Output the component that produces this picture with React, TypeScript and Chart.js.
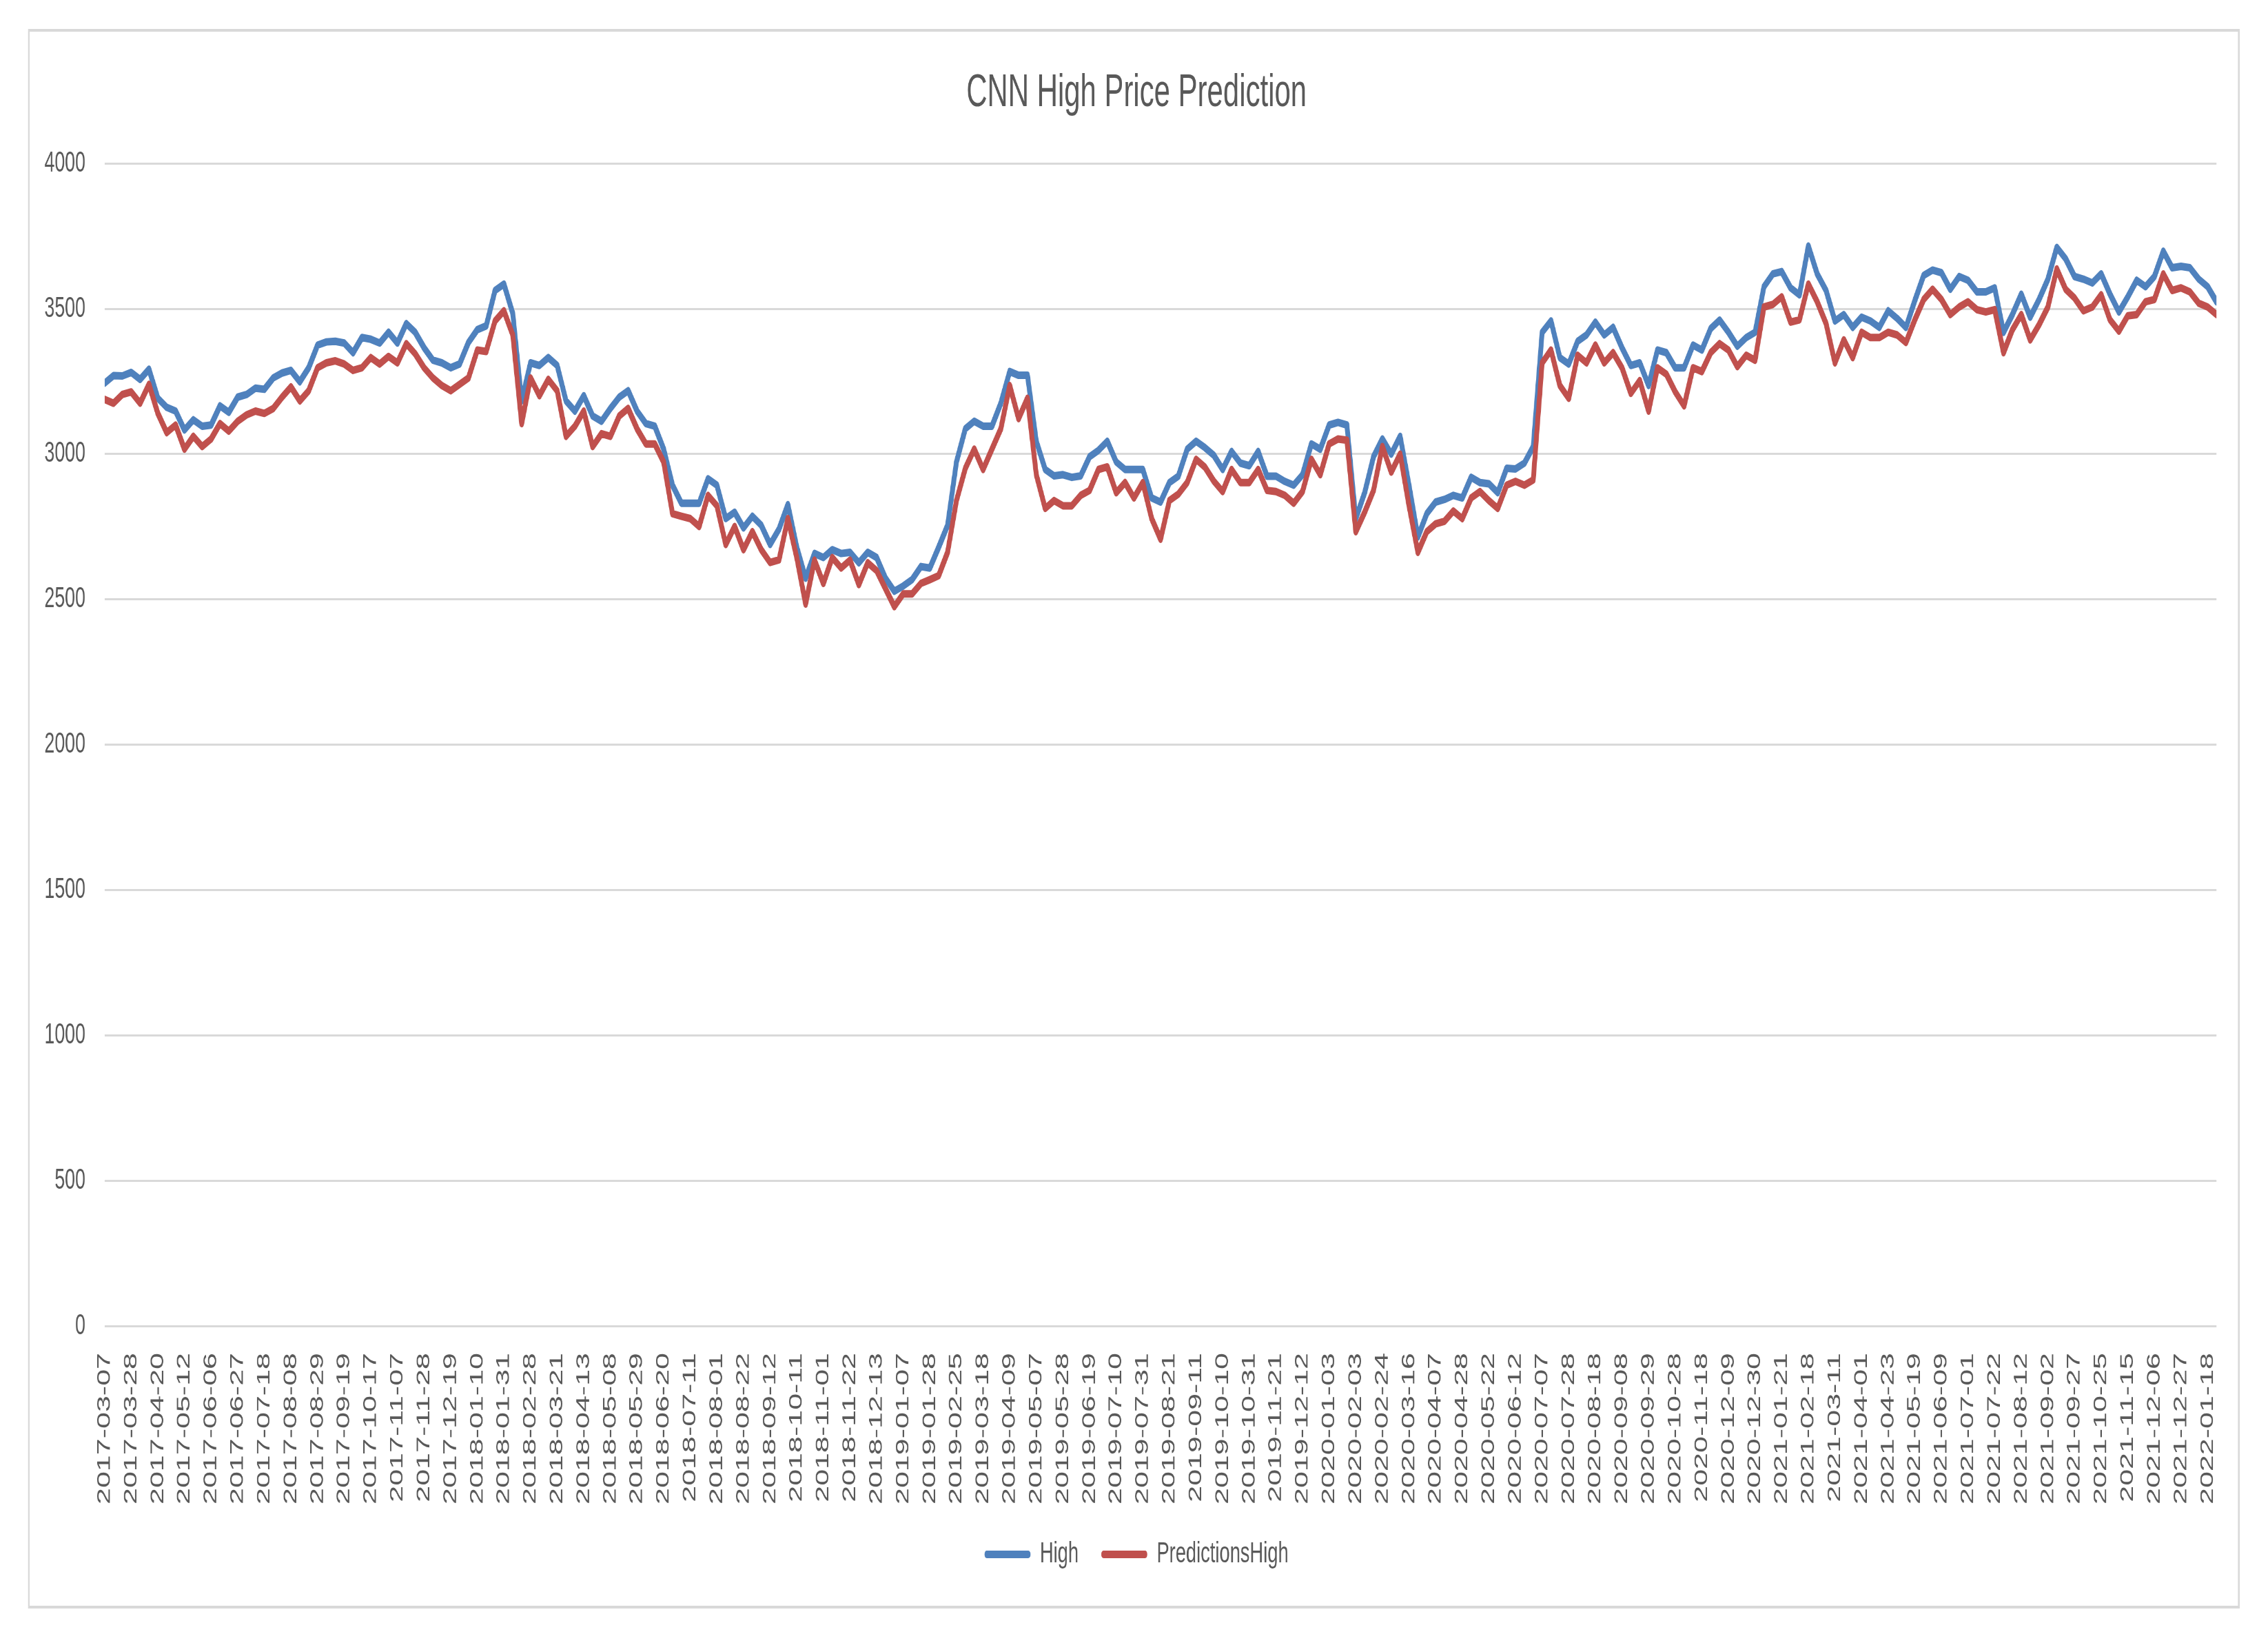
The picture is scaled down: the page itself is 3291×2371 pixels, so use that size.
import { useEffect, useRef } from 'react';
import { Chart, registerables } from 'chart.js';

Chart.register(...registerables);

const TITLE = 'CNN High Price Prediction';
const SERIES_NAMES = ['High', 'PredictionsHigh'];

// Category (date) labels shown on the x axis, one every LABEL_EVERY trading days
const DATE_LABELS = [
  '2017-03-07', '2017-03-28', '2017-04-20', '2017-05-12', '2017-06-06', '2017-06-27', '2017-07-18', '2017-08-08',
  '2017-08-29', '2017-09-19', '2017-10-17', '2017-11-07', '2017-11-28', '2017-12-19', '2018-01-10', '2018-01-31',
  '2018-02-28', '2018-03-21', '2018-04-13', '2018-05-08', '2018-05-29', '2018-06-20', '2018-07-11', '2018-08-01',
  '2018-08-22', '2018-09-12', '2018-10-11', '2018-11-01', '2018-11-22', '2018-12-13', '2019-01-07', '2019-01-28',
  '2019-02-25', '2019-03-18', '2019-04-09', '2019-05-07', '2019-05-28', '2019-06-19', '2019-07-10', '2019-07-31',
  '2019-08-21', '2019-09-11', '2019-10-10', '2019-10-31', '2019-11-21', '2019-12-12', '2020-01-03', '2020-02-03',
  '2020-02-24', '2020-03-16', '2020-04-07', '2020-04-28', '2020-05-22', '2020-06-12', '2020-07-07', '2020-07-28',
  '2020-08-18', '2020-09-08', '2020-09-29', '2020-10-28', '2020-11-18', '2020-12-09', '2020-12-30', '2021-01-21',
  '2021-02-18', '2021-03-11', '2021-04-01', '2021-04-23', '2021-05-19', '2021-06-09', '2021-07-01', '2021-07-22',
  '2021-08-12', '2021-09-02', '2021-09-27', '2021-10-25', '2021-11-15', '2021-12-06', '2021-12-27', '2022-01-18',
];
const LABEL_EVERY = 15; // trading days between two date labels
const SAMPLE_STEP = 5; // trading days between two stored samples
const LAST_DAY = 1190; // index of the last trading day

// High (read every 5 trading days)
const HIGH = [
  3244, 3270, 3269, 3281, 3257, 3292, 3192, 3161, 3148, 3083,
  3118, 3096, 3100, 3166, 3144, 3196, 3205, 3227, 3223, 3262,
  3279, 3288, 3249, 3297, 3375, 3386, 3388, 3382, 3349, 3401,
  3395, 3382, 3419, 3382, 3449, 3419, 3366, 3323, 3314, 3297,
  3310, 3384, 3428, 3441, 3563, 3585, 3484, 3183, 3314, 3305,
  3332, 3305, 3183, 3148, 3201, 3131, 3113, 3157, 3196, 3218,
  3148, 3105, 3096, 3017, 2893, 2831, 2831, 2831, 2915, 2893,
  2778, 2800, 2746, 2786, 2755, 2689, 2742, 2826, 2680, 2573,
  2658, 2644, 2671, 2658, 2662, 2626, 2662, 2644, 2573, 2528,
  2546, 2568, 2613, 2608, 2680, 2755, 2973, 3087, 3113, 3096,
  3096, 3175, 3284, 3271, 3271, 3044, 2947, 2925, 2929, 2920,
  2925, 2991, 3013, 3044, 2973, 2947, 2947, 2947, 2849, 2835,
  2902, 2924, 3017, 3044, 3022, 2996, 2947, 3009, 2969, 2960,
  3009, 2924, 2924, 2906, 2893, 2929, 3035, 3017, 3100, 3109,
  3100, 2778, 2867, 2991, 3052, 3000, 3061, 2893, 2715, 2795,
  2835, 2844, 2858, 2849, 2920, 2902, 2898, 2867, 2951, 2949,
  2969, 3026, 3419, 3458, 3332, 3310, 3388, 3410, 3454, 3410,
  3436, 3366, 3305, 3314, 3236, 3358, 3349, 3297, 3297, 3375,
  3358, 3432, 3461, 3419, 3371, 3401, 3419, 3576, 3620, 3628,
  3572, 3548, 3716, 3620, 3563, 3458, 3480, 3436, 3471, 3458,
  3436, 3493, 3467, 3436, 3528, 3615, 3633, 3624, 3567, 3611,
  3598, 3558, 3558, 3572, 3419, 3480, 3550, 3471, 3532, 3602,
  3711, 3672, 3611, 3602, 3589, 3620, 3550, 3489, 3541, 3598,
  3576, 3611, 3698, 3641, 3646, 3641, 3602, 3576, 3524,
];

// PredictionsHigh (read every 5 trading days)
const PREDICTIONS_HIGH = [
  3188, 3175, 3205, 3214, 3175, 3240, 3140, 3074, 3100, 3017,
  3061, 3026, 3052, 3105, 3079, 3113, 3135, 3148, 3140, 3157,
  3196, 3231, 3183, 3218, 3297, 3314, 3321, 3310, 3288, 3297,
  3332, 3310, 3336, 3314, 3380, 3345, 3297, 3262, 3236, 3218,
  3240, 3262, 3358, 3353, 3458, 3493, 3410, 3105, 3262, 3201,
  3257, 3218, 3061, 3096, 3148, 3026, 3070, 3061, 3131, 3157,
  3087, 3035, 3035, 2973, 2795, 2786, 2778, 2751, 2858, 2822,
  2689, 2751, 2671, 2733, 2671, 2627, 2636, 2778, 2644, 2484,
  2635, 2555, 2644, 2608, 2635, 2551, 2626, 2599, 2537, 2475,
  2519, 2519, 2555, 2568, 2582, 2662, 2840, 2951, 3017, 2947,
  3017, 3087, 3236, 3122, 3192, 2929, 2813, 2840, 2822, 2822,
  2858, 2875, 2947, 2956, 2867, 2902, 2849, 2902, 2778, 2707,
  2840, 2862, 2902, 2982, 2955, 2907, 2871, 2947, 2902, 2902,
  2947, 2875, 2871, 2858, 2831, 2871, 2982, 2929, 3035, 3052,
  3048, 2733, 2800, 2875, 3026, 2938, 3000, 2822, 2662, 2733,
  2760, 2769, 2804, 2778, 2849, 2871, 2840, 2813, 2893, 2906,
  2893, 2911, 3314, 3358, 3236, 3192, 3340, 3314, 3375, 3314,
  3349, 3297, 3209, 3253, 3148, 3297, 3275, 3214, 3166, 3297,
  3284, 3349, 3380, 3358, 3301, 3340, 3323, 3506, 3515, 3541,
  3454, 3462, 3585, 3524, 3449, 3314, 3393, 3332, 3419, 3401,
  3401, 3419, 3410, 3384, 3462, 3532, 3567, 3532, 3480, 3506,
  3524, 3497, 3489, 3497, 3349, 3428, 3480, 3393, 3445, 3506,
  3637, 3567, 3537, 3493, 3506, 3548, 3462, 3423, 3476, 3480,
  3524, 3532, 3620, 3563, 3572, 3558, 3519, 3506, 3480,
];

const Y_MIN = 0;
const Y_MAX = 4000;
const Y_STEP = 500;

const BLUE = '#4f81bd';
const RED = '#c0504d';
const TEXT = '#595959';
const GRID = '#d9d9d9';
const FONT = "'Liberation Sans', Arial, sans-serif";

// page size and horizontal squeeze of the reference picture
const W = 3291;
const H = 2371;
const SX = 0.635;
const CW = Math.round(W / SX);

const framePlugin = {
  id: 'frame',
  beforeDraw(chart: any) {
    const c = chart.ctx;
    c.save();
    c.fillStyle = '#ffffff';
    c.fillRect(0, 0, chart.width, chart.height);
    c.strokeStyle = GRID;
    c.lineWidth = 4;
    c.strokeRect(66, 44, 5116 - 66, 2332 - 44);
    c.restore();
  },
};

// let the value-axis labels extend to the left of the (narrow) axis box
const unclipYLabels = {
  id: 'unclipYLabels',
  afterLayout(chart: any) {
    const y = chart.scales && chart.scales.y;
    if (y) y._computeLabelArea = () => undefined;
  },
};

export default function App() {
  const ref = useRef<HTMLCanvasElement>(null);

  useEffect(() => {
    document.body.style.margin = '0';
    const canvas = ref.current;
    if (!canvas) return;
    const toPoints = (arr: number[]) => arr.map((v, i) => ({ x: i * SAMPLE_STEP, y: v }));
    const line = (label: string, data: number[], color: string, order: number) => ({
      label,
      data: toPoints(data),
      borderColor: color,
      backgroundColor: color,
      borderWidth: 11,
      pointRadius: 0,
      tension: 0,
      borderJoinStyle: 'round',
      borderCapStyle: 'round',
      order,
    });
    const chart = new Chart(canvas, {
      type: 'line',
      data: {
        datasets: [line(SERIES_NAMES[0], HIGH, BLUE, 1), line(SERIES_NAMES[1], PREDICTIONS_HIGH, RED, 0)],
      },
      options: {
        responsive: false,
        animation: false,
        devicePixelRatio: 1,
        layout: { padding: { left: 129, right: 118, top: 50, bottom: 84 } },
        plugins: {
          title: {
            display: true,
            text: TITLE,
            color: TEXT,
            font: { family: FONT, size: 66, weight: 'normal' },
            padding: { top: 46, bottom: 62 },
          },
          legend: {
            position: 'bottom',
            labels: {
              boxWidth: 105,
              boxHeight: 11,
              padding: 52,
              color: TEXT,
              font: { family: FONT, size: 43 },
              generateLabels: () =>
                SERIES_NAMES.map((name, i) => ({
                  text: name,
                  fillStyle: i === 0 ? BLUE : RED,
                  strokeStyle: i === 0 ? BLUE : RED,
                  lineWidth: 0,
                  hidden: false,
                  datasetIndex: i,
                  borderRadius: 5,
                  fontColor: TEXT,
                })),
            },
          },
          tooltip: { enabled: false },
        },
        scales: {
          x: {
            type: 'linear',
            min: 0,
            max: LAST_DAY,
            grid: { display: false },
            border: { display: false },
            afterBuildTicks: (s: any) => {
              s.ticks = DATE_LABELS.map((_, k) => ({ value: k * LABEL_EVERY }));
            },
            afterFit: (s: any) => {
              s.height = 258;
            },
            ticks: {
              autoSkip: false,
              maxRotation: 90,
              minRotation: 90,
              padding: 31,
              color: TEXT,
              font: { family: FONT, size: 43 },
              callback: (v: any) => DATE_LABELS[Math.round(Number(v) / LABEL_EVERY)] ?? '',
            },
          },
          y: {
            min: Y_MIN,
            max: Y_MAX,
            border: { display: false },
            grid: { color: GRID, lineWidth: 3, drawTicks: false },
            afterFit: (s: any) => {
              s.width = 110;
            },
            ticks: {
              stepSize: Y_STEP,
              padding: 44,
              color: TEXT,
              font: { family: FONT, size: 42 },
              callback: (v: any) => String(v),
            },
          },
        },
      },
      plugins: [framePlugin, unclipYLabels],
    } as any);
    return () => chart.destroy();
  }, []);

  return (
    <div style={{ position: 'relative', width: W, height: H, overflow: 'hidden', background: '#ffffff' }}>
      <canvas
        ref={ref}
        width={CW}
        height={H}
        style={{
          position: 'absolute',
          left: 0,
          top: 0,
          width: CW,
          height: H,
          transform: `scaleX(${SX})`,
          transformOrigin: '0 0',
        }}
      />
    </div>
  );
}
